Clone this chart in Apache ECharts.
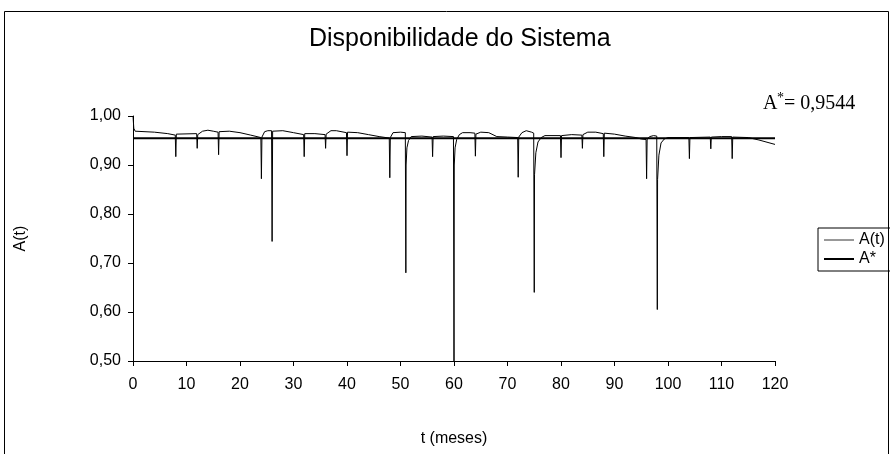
<!DOCTYPE html>
<html>
<head>
<meta charset="utf-8">
<script src="https://cdn.jsdelivr.net/npm/echarts@6/dist/echarts.min.js"></script>
<style>
  html, body { margin: 0; padding: 0; background: #fff; }
  #chart { width: 890px; height: 454px; }
</style>
</head>
<body>
<div id="chart"></div>
<script>
// A(t): meses (t) e disponibilidade
const tempos = [
  0, 0.15, 0.4, 4, 6.5, 7.9, 8, 8.1, 11.9, 12, 12.1, 13, 14, 15, 15.9, 16, 16.1, 18, 20, 22, 23.9,
  24, 24.1, 24.6, 25.2, 25.9, 26, 26.1, 28, 30, 31.9, 32, 32.1, 34, 35.9, 36, 36.1, 37, 38, 39.9,
  40, 40.1, 42, 44, 46, 47.9, 48, 48.1, 48.6, 50, 50.9, 51, 51.05, 51.2, 51.5, 52, 54, 55.9,
  56, 56.1, 58, 59.9, 60, 60.05, 60.2, 60.5, 61, 61.6, 63, 63.9, 64, 64.1, 65, 66.5, 68, 70, 71.9,
  72, 72.1, 72.7, 73.5, 74.5, 74.9, 75, 75.05, 75.3, 75.7, 76.3, 77, 79.9, 80, 80.1, 82, 83.9,
  84, 84.1, 85, 86.5, 87.9, 88, 88.1, 90, 92, 94, 95, 95.9, 96, 96.1, 96.6, 97.3, 97.9,
  98, 98.05, 98.3, 98.7, 99.3, 100, 103.9, 104, 104.1, 107.9, 108, 108.1, 110, 111.9,
  112, 112.1, 115, 117, 120
]
const disponibilidade = [
  1.0, 0.975, 0.969, 0.967, 0.964, 0.961, 0.917, 0.963, 0.964, 0.934, 0.962, 0.969, 0.971, 0.969, 0.967, 0.921, 0.968, 0.969, 0.966, 0.961, 0.956,
  0.872, 0.957, 0.968, 0.970, 0.970, 0.744, 0.969, 0.970, 0.966, 0.962, 0.917, 0.964, 0.964, 0.962, 0.934, 0.963, 0.970, 0.970, 0.966,
  0.919, 0.967, 0.966, 0.962, 0.958, 0.955, 0.874, 0.956, 0.966, 0.967, 0.966, 0.680, 0.900, 0.935, 0.950, 0.958, 0.959, 0.957,
  0.917, 0.958, 0.959, 0.958, 0.500, 0.900, 0.935, 0.952, 0.962, 0.966, 0.966, 0.965, 0.918, 0.963, 0.967, 0.966, 0.958, 0.957, 0.956,
  0.875, 0.957, 0.966, 0.970, 0.967, 0.965, 0.640, 0.880, 0.925, 0.947, 0.956, 0.960, 0.960, 0.915, 0.960, 0.962, 0.961,
  0.934, 0.962, 0.967, 0.967, 0.964, 0.917, 0.965, 0.963, 0.959, 0.956, 0.953, 0.952, 0.872, 0.953, 0.958, 0.960, 0.959,
  0.605, 0.870, 0.920, 0.945, 0.953, 0.956, 0.956, 0.913, 0.956, 0.957, 0.933, 0.957, 0.958, 0.958,
  0.913, 0.957, 0.956, 0.951, 0.942
]
// A* (disponibilidade média)
const aEstrela = 0.9544
const aEstrelaTempos = [0, 120]

const xTicks = { min: 0, max: 120, interval: 10 }
const yTicks = { min: 0.5, max: 1.0, interval: 0.1 }

const fonte = 'Liberation Sans, Arial, sans-serif'
const fonteSerif = 'Liberation Serif, Times New Roman, serif'

const chartInstance = echarts.init(document.getElementById('chart'))

const option = {
  animation: false,
  backgroundColor: '#fff',
  title: {
    text: 'Disponibilidade do Sistema',
    left: 304,
    top: 22,
    textStyle: {
      fontFamily: fonte,
      fontSize: 25,
      fontWeight: 'normal',
      color: '#000'
    }
  },
  grid: {
    left: 133,
    right: 115,
    top: 116,
    bottom: 93
  },
  legend: {
    orient: 'vertical',
    left: 818,
    top: 228,
    padding: [4, 30, 4, 5],
    itemGap: 3,
    itemWidth: 30,
    itemHeight: 14,
    borderColor: '#000',
    borderWidth: 1,
    itemStyle: { opacity: 0 },
    textStyle: { fontFamily: fonte, fontSize: 16, color: '#000' },
    data: [
      { name: 'A(t)', lineStyle: { width: 1, color: '#333' } },
      { name: 'A*', lineStyle: { width: 2, color: '#000' } }
    ]
  },
  xAxis: {
    type: 'value',
    min: xTicks.min,
    max: xTicks.max,
    interval: xTicks.interval,
    name: 't (meses)',
    nameLocation: 'middle',
    nameGap: 70,
    nameTextStyle: { fontFamily: fonte, fontSize: 16, color: '#000' },
    axisLine: { lineStyle: { color: '#000', width: 1 } },
    axisTick: { show: true, length: 5, lineStyle: { color: '#000' } },
    axisLabel: { fontFamily: fonte, fontSize: 16, color: '#000', margin: 16 },
    splitLine: { show: false }
  },
  yAxis: {
    type: 'value',
    min: yTicks.min,
    max: yTicks.max,
    interval: yTicks.interval,
    name: 'A(t)',
    nameLocation: 'middle',
    nameGap: 104,
    nameRotate: 90,
    nameTextStyle: { fontFamily: fonte, fontSize: 16, color: '#000' },
    axisLine: { show: true, lineStyle: { color: '#000', width: 1 } },
    axisTick: { show: true, length: 5, lineStyle: { color: '#000' } },
    axisLabel: {
      fontFamily: fonte,
      fontSize: 16,
      color: '#000',
      margin: 12,
      formatter: (v) => v.toFixed(2).replace('.', ',')
    },
    splitLine: { show: false }
  },
  graphic: [
    {
      type: 'rect',
      z: -1,
      shape: { x: 4.5, y: 11.5, width: 884, height: 470 },
      style: { fill: 'none', stroke: '#000', lineWidth: 1 }
    },
    {
      type: 'text',
      left: 763,
      top: 94,
      style: { text: 'A', font: '20px ' + fonteSerif, fill: '#000' }
    },
    {
      type: 'text',
      left: 777,
      top: 91,
      style: { text: '*', font: '14px ' + fonteSerif, fill: '#000' }
    },
    {
      type: 'text',
      left: 784,
      top: 94,
      style: { text: '= 0,9544', font: '20px ' + fonteSerif, fill: '#000' }
    }
  ],
  series: [
    {
      name: 'A(t)',
      type: 'line',
      symbol: 'none',
      lineStyle: { width: 1, color: '#000' },
      itemStyle: { color: '#000' },
      data: tempos.map((t, i) => [t, disponibilidade[i]])
    },
    {
      name: 'A*',
      type: 'line',
      symbol: 'none',
      lineStyle: { width: 2, color: '#000' },
      itemStyle: { color: '#000' },
      data: aEstrelaTempos.map((t) => [t, aEstrela])
    }
  ]
}

chartInstance.setOption(option)

window.addEventListener('resize', () => {
  chartInstance && chartInstance.resize()
})
</script>
</body>
</html>
